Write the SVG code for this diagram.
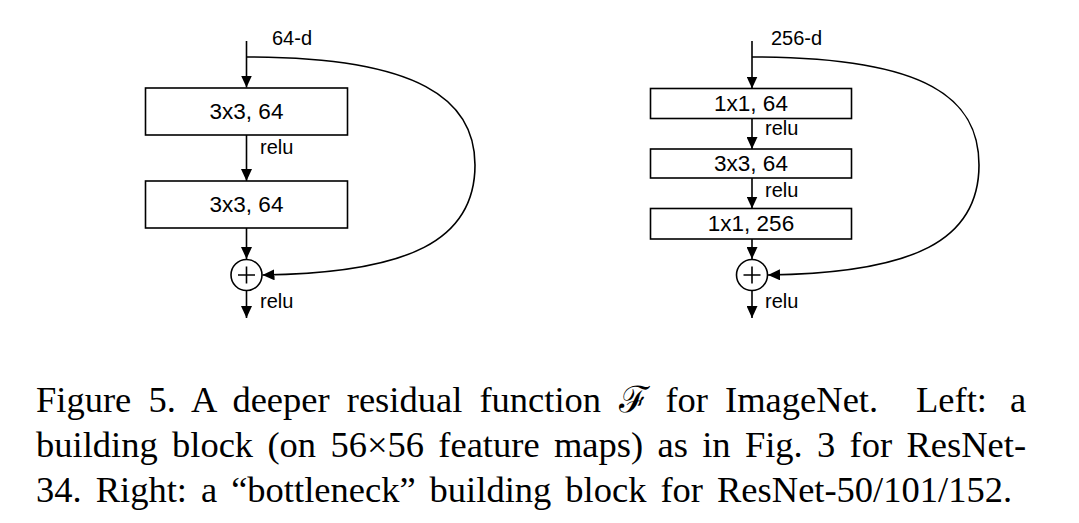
<svg xmlns="http://www.w3.org/2000/svg" width="1079" height="523" viewBox="0 0 1079 523">
  <defs>
    <style>
      .box { fill: #ffffff; stroke: #000000; stroke-width: 1.6; }
      .sum { fill: #ffffff; stroke: #000000; stroke-width: 1.6; }
      .plus { stroke: #000000; stroke-width: 1.6; fill: none; }
      .edge { stroke: #000000; stroke-width: 1.6; fill: none; marker-end: url(#arrow); }
      .lbl { font-family: "Liberation Sans", Arial, sans-serif; font-size: 22.5px; fill: #000000; text-anchor: middle; }
      .small { font-family: "Liberation Sans", Arial, sans-serif; font-size: 20px; fill: #000000; }
      .cap { font-family: "Liberation Serif", "Times New Roman", serif; font-size: 36.5px; fill: #000000; }
    </style>
    <marker id="arrow" markerUnits="userSpaceOnUse" markerWidth="12" markerHeight="11" refX="12" refY="5.5" orient="auto">
      <path d="M0,0 L12,5.5 L0,11 z" fill="#000000"/>
    </marker>
  </defs>

  <g id="connectors">
    <!-- left block -->
    <line class="edge" x1="246.5" y1="41" x2="246.5" y2="87.5"/>
    <line class="edge" x1="246.5" y1="135" x2="246.5" y2="181"/>
    <line class="edge" x1="246.5" y1="228" x2="246.5" y2="259"/>
    <line class="edge" x1="246.5" y1="291" x2="246.5" y2="318"/>
    <path class="edge" d="M246.5,57 C420,57 475,100 475,165 C475,240 410,273 262.5,275"/>
    <!-- right block -->
    <line class="edge" x1="752" y1="41" x2="752" y2="88.5"/>
    <line class="edge" x1="752" y1="118.5" x2="752" y2="149"/>
    <line class="edge" x1="752" y1="178" x2="752" y2="208.5"/>
    <line class="edge" x1="752" y1="239" x2="752" y2="259"/>
    <line class="edge" x1="752" y1="291" x2="752" y2="318"/>
    <path class="edge" d="M752,57 C930,57 979,100 979,165 C979,240 915,273 768,275"/>
  </g>

  <g id="left-input-label">
    <text class="small" x="272" y="45">64-d</text>
  </g>
  <g id="left-conv1">
    <rect class="box" x="145.5" y="88" width="202" height="47"/>
    <text class="lbl" x="246.5" y="119">3x3, 64</text>
  </g>
  <g id="left-relu1">
    <text class="small" x="260" y="154">relu</text>
  </g>
  <g id="left-conv2">
    <rect class="box" x="145.5" y="181" width="202" height="47"/>
    <text class="lbl" x="246.5" y="212">3x3, 64</text>
  </g>
  <g id="left-sum">
    <circle class="sum" cx="246.5" cy="275" r="15.5"/>
    <path class="plus" d="M238,275 H255 M246.5,266.5 V283.5"/>
  </g>
  <g id="left-relu2">
    <text class="small" x="260" y="308">relu</text>
  </g>

  <g id="right-input-label">
    <text class="small" x="771" y="45">256-d</text>
  </g>
  <g id="right-conv1">
    <rect class="box" x="650.5" y="88.5" width="201" height="30"/>
    <text class="lbl" x="751" y="111">1x1, 64</text>
  </g>
  <g id="right-relu1">
    <text class="small" x="765" y="135">relu</text>
  </g>
  <g id="right-conv2">
    <rect class="box" x="650.5" y="149" width="201" height="29"/>
    <text class="lbl" x="751" y="171">3x3, 64</text>
  </g>
  <g id="right-relu2">
    <text class="small" x="765" y="196.5">relu</text>
  </g>
  <g id="right-conv3">
    <rect class="box" x="650.5" y="208.5" width="201" height="30.5"/>
    <text class="lbl" x="751" y="231">1x1, 256</text>
  </g>
  <g id="right-sum">
    <circle class="sum" cx="752" cy="275" r="15.5"/>
    <path class="plus" d="M743.5,275 H760.5 M752,266.5 V283.5"/>
  </g>
  <g id="right-relu3">
    <text class="small" x="765" y="308">relu</text>
  </g>

  <g id="caption">
    <text class="cap" x="36" y="411.5" word-spacing="8">Figure 5. A deeper residual function <tspan font-family="'DejaVu Serif', 'Noto Sans', serif" font-style="italic">ℱ</tspan> for ImageNet.</text>
    <text class="cap" x="916" y="411.5" word-spacing="14">Left: a</text>
    <text class="cap" x="36" y="457" word-spacing="5.2">building block (on 56×56 feature maps) as in Fig. 3 for ResNet-</text>
    <text class="cap" x="36" y="502" word-spacing="4.9">34. Right: a “bottleneck” building block for ResNet-50/101/152.</text>
  </g>
</svg>
